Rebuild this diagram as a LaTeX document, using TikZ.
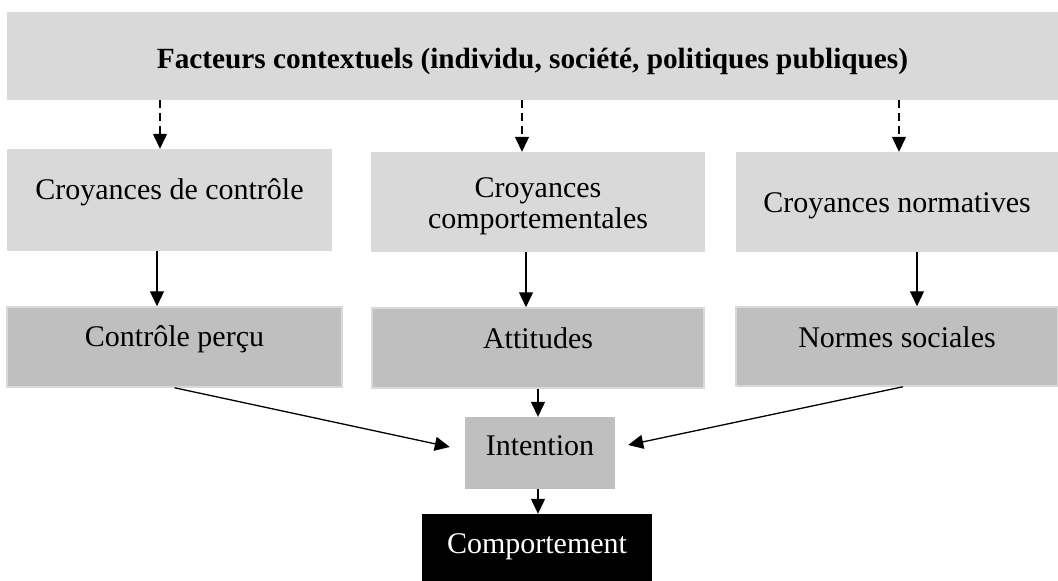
\documentclass[tikz,border=0pt]{standalone}
\usepackage{fontspec}
\setmainfont{Liberation Serif}
\usetikzlibrary{arrows.meta,positioning,calc}

\definecolor{grisclair}{HTML}{D9D9D9}
\definecolor{grismoyen}{HTML}{BFBFBF}

\tikzset{
  boite/.style={inner sep=0pt, align=center, font=\fontsize{30}{31}\selectfont},
  croybox/.style={boite, fill=grisclair},
  detbox/.style={boite, fill=grismoyen, draw=grisclair, line width=1.5pt},
  fleche/.style={-{Triangle[length=15pt,width=14pt]}, line width=1.3pt},
  flechepointillee/.style={fleche, dash pattern=on 8pt off 5pt}
}

\begin{document}
\begin{tikzpicture}[x=1pt,y=-1pt]
  \useasboundingbox (0,0) rectangle (1058,581);

  \node[croybox, minimum width=1051, minimum height=88, text height=24, text depth=0,
        font=\fontsize{29.3}{31}\selectfont\bfseries] (ctx) at (532.5,56)
        {Facteurs contextuels (individu, société, politiques publiques)};

  \node[croybox, minimum width=325, minimum height=102, text height=20, text depth=22] (cc) at (169.5,200) {Croyances de contrôle};
  \node[croybox, minimum width=334, minimum height=100, text height=52, text depth=0] (cb) at (538,202) {Croyances\\comportementales};
  \node[croybox, minimum width=322, minimum height=100, text height=20, text depth=0] (cn) at (897,202) {Croyances normatives};

  \node[detbox, minimum width=335, minimum height=80, text height=20, text depth=22] (cp) at (174.5,347) {Contrôle perçu};
  \node[detbox, minimum width=332, minimum height=80, text height=20, text depth=20] (att) at (538,348) {Attitudes};
  \node[detbox, minimum width=322, minimum height=79, text height=20, text depth=19] (ns) at (897,346.5) {Normes sociales};

  \node[boite, fill=grismoyen, minimum width=150, minimum height=72, text height=20, text depth=16] (int) at (540,453) {Intention};
  \node[boite, fill=black, text=white, minimum width=230, minimum height=67, text height=20, text depth=9] (comp) at (537,547.5) {Comportement};

  % facteurs contextuels -> croyances
  \draw[flechepointillee] ([xshift=-9.5]cc.north |- ctx.south) -- ([xshift=-9.5]cc.north);
  \draw[flechepointillee] ([xshift=-16]cb.north |- ctx.south) -- ([xshift=-16]cb.north);
  \draw[flechepointillee] ([xshift=2]cn.north |- ctx.south) -- ([xshift=2]cn.north);

  % croyances -> déterminants
  \draw[fleche] ([xshift=-17.5]cp.north |- cc.south) -- ([xshift=-17.5]cp.north);
  \draw[fleche] ([xshift=-12]att.north |- cb.south) -- ([xshift=-12]att.north);
  \draw[fleche] ([xshift=20]ns.north |- cn.south) -- ([xshift=20]ns.north);

  % déterminants -> intention -> comportement
  \draw[fleche] (att.south) -- (att.south |- int.north);
  \draw[fleche] (cp.south) -- ([xshift=-15,yshift=6]int.west);
  \draw[fleche] ([xshift=6]ns.south) -- ([xshift=13,yshift=8]int.east);
  \draw[fleche] ([xshift=-2]int.south) -- ([xshift=-2]int.south |- comp.north);
\end{tikzpicture}
\end{document}
